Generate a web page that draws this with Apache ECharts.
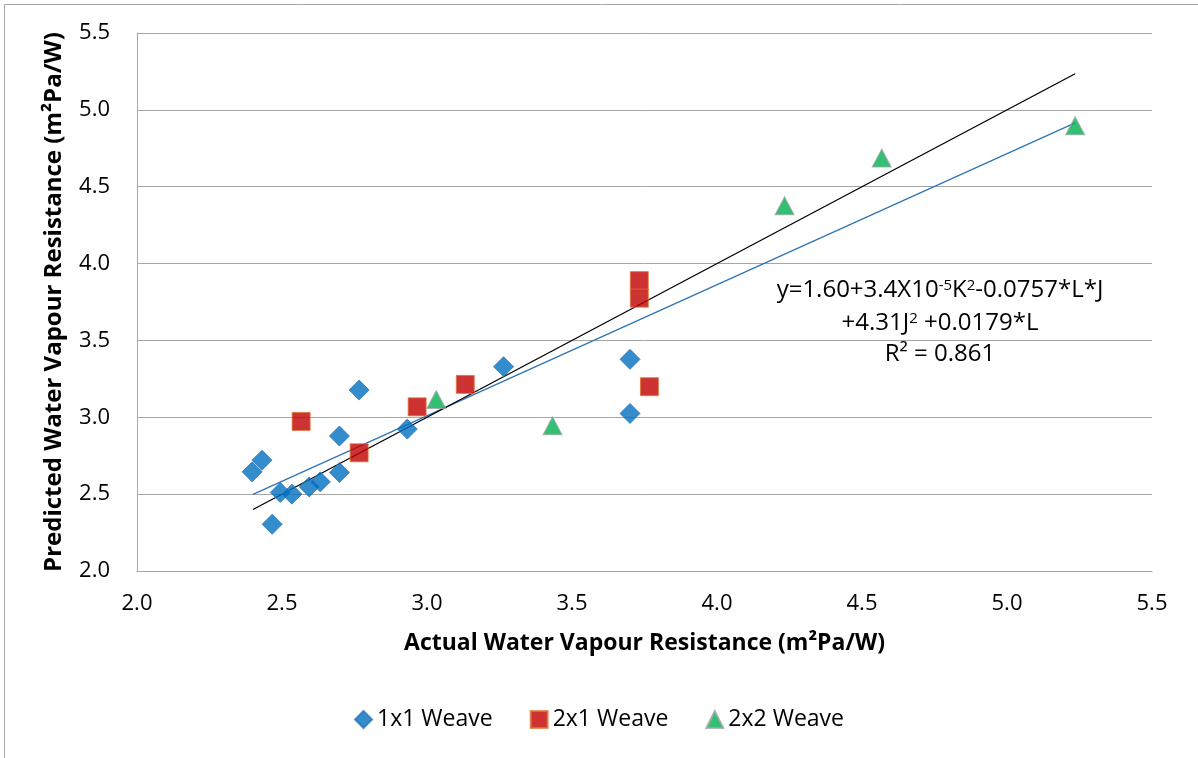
<!DOCTYPE html>
<html>
<head>
<meta charset="utf-8">
<script src="https://cdn.jsdelivr.net/npm/echarts@6/dist/echarts.min.js"></script>
<style>
  html, body { margin: 0; padding: 0; background: #fff; }
  #chart { width: 1198px; height: 758px; }
</style>
</head>
<body>
<div id="chart"></div>
<script>
// Actual vs predicted water vapour resistance (m²Pa/W), by weave type
const weave1x1 = [
  [2.397, 2.645], [2.431, 2.721], [2.466, 2.304], [2.494, 2.511],
  [2.534, 2.500], [2.594, 2.547], [2.632, 2.580], [2.698, 2.641],
  [2.698, 2.878], [2.766, 3.177], [2.932, 2.923], [3.264, 3.329],
  [3.700, 3.377], [3.700, 3.025]
];
const weave2x1 = [
  [2.566, 2.973], [2.766, 2.769], [2.966, 3.068], [3.132, 3.214],
  [3.732, 3.889], [3.732, 3.775], [3.767, 3.199]
];
const weave2x2 = [
  [3.032, 3.115], [3.433, 2.945], [4.233, 4.376], [4.568, 4.687],
  [5.235, 4.897]
];
// 1:1 reference line and linear fit of predicted on actual
const identityLine = [[2.4, 2.4], [5.235, 5.235]];
const fitLine = [[2.4, 2.498], [5.235, 4.915]];

const seriesNames = ['1x1 Weave', '2x1 Weave', '2x2 Weave'];
const axisTicks = [2.0, 2.5, 3.0, 3.5, 4.0, 4.5, 5.0, 5.5];

// Regression equation, one rich-text string per line
const equationLines = [
  '{n|y=1.60+3.4X10}{s|-5}{n|K}{s|2}{n|-0.0757*L*J}',
  '{n|+4.31J}{s|2}{n| +0.0179*L}',
  '{n|R² = 0.861}'
];

const FONT = 'Open Sans';
const EQ_COLOR = '#3c6499';
const chart = echarts.init(document.getElementById('chart'), null, { renderer: 'canvas' });

const eqRich = {
  n: { fontFamily: FONT, fontSize: 24, color: EQ_COLOR },
  s: { fontFamily: FONT, fontSize: 15, color: EQ_COLOR, verticalAlign: 'top', padding: [0, 0, 8, 0] }
};

chart.setOption({
  animation: false,
  backgroundColor: '#ffffff',
  textStyle: { fontFamily: FONT },
  grid: { left: 137, top: 33, right: 46, bottom: 187, containLabel: false },
  xAxis: {
    type: 'value',
    min: axisTicks[0], max: axisTicks[axisTicks.length - 1], interval: 0.5,
    name: 'Actual Water Vapour Resistance (m²Pa/W)',
    nameLocation: 'middle', nameGap: 61,
    nameTextStyle: { fontFamily: FONT, fontSize: 23, fontWeight: 'bold', color: '#000' },
    axisLine: { show: true, lineStyle: { color: '#a6a6a6', width: 1 } },
    axisTick: { show: false },
    splitLine: { show: false },
    axisLabel: { fontSize: 22, color: '#000', margin: 22, formatter: v => v.toFixed(1) }
  },
  yAxis: {
    type: 'value',
    min: axisTicks[0], max: axisTicks[axisTicks.length - 1], interval: 0.5,
    name: 'Predicted Water Vapour Resistance (m²Pa/W)',
    nameLocation: 'middle', nameGap: 71,
    nameTextStyle: { fontFamily: FONT, fontSize: 24, fontWeight: 'bold', color: '#000' },
    axisLine: { show: true, lineStyle: { color: '#a6a6a6', width: 1 } },
    axisTick: { show: false },
    splitLine: { show: true, lineStyle: { color: '#a6a6a6', width: 1 } },
    axisLabel: { fontSize: 22, color: '#000', margin: 27, formatter: v => v.toFixed(1) }
  },
  legend: {
    data: seriesNames,
    top: 708, left: 'center', padding: 0,
    itemGap: 37, itemWidth: 17, itemHeight: 17,
    textStyle: { fontFamily: FONT, fontSize: 23, color: '#000', padding: [0, 0, 0, 0] }
  },
  graphic: [
    { type: 'line', shape: { x1: 4.5, y1: 4.5, x2: 1198, y2: 4.5 }, style: { stroke: '#a6a6a6', lineWidth: 1 } },
    { type: 'line', shape: { x1: 4.5, y1: 4.5, x2: 4.5, y2: 758 }, style: { stroke: '#a6a6a6', lineWidth: 1 } },
    { type: 'text', x: 940, y: 290, z: 10,
      style: { text: equationLines[0], align: 'center', verticalAlign: 'middle', rich: eqRich } },
    { type: 'text', x: 940, y: 323, z: 10,
      style: { text: equationLines[1], align: 'center', verticalAlign: 'middle', rich: eqRich } },
    { type: 'text', x: 940, y: 354, z: 10,
      style: { text: equationLines[2], align: 'center', verticalAlign: 'middle', rich: eqRich } }
  ],
  series: [
    {
      name: 'fit', type: 'line', data: fitLine, symbol: 'none', silent: true, z: 3,
      lineStyle: { color: '#2e75b6', width: 1.3 }
    },
    {
      name: 'identity', type: 'line', data: identityLine, symbol: 'none', silent: true, z: 3,
      lineStyle: { color: '#000000', width: 1.3 }
    },
    {
      name: seriesNames[0], type: 'scatter', data: weave1x1, z: 4,
      symbol: 'diamond', symbolSize: [20, 20],
      itemStyle: { color: '#0070c0', borderColor: '#2e75b6', borderWidth: 1 }
    },
    {
      name: seriesNames[1], type: 'scatter', data: weave2x1, z: 4,
      symbol: 'rect', symbolSize: [18, 18],
      itemStyle: { color: '#c00000', borderColor: '#e0773a', borderWidth: 1 }
    },
    {
      name: seriesNames[2], type: 'scatter', data: weave2x2, z: 4,
      symbol: 'triangle', symbolSize: [19, 18],
      itemStyle: { color: '#00b050', borderColor: '#a5a5a5', borderWidth: 1 }
    }
  ]
});
</script>
</body>
</html>
